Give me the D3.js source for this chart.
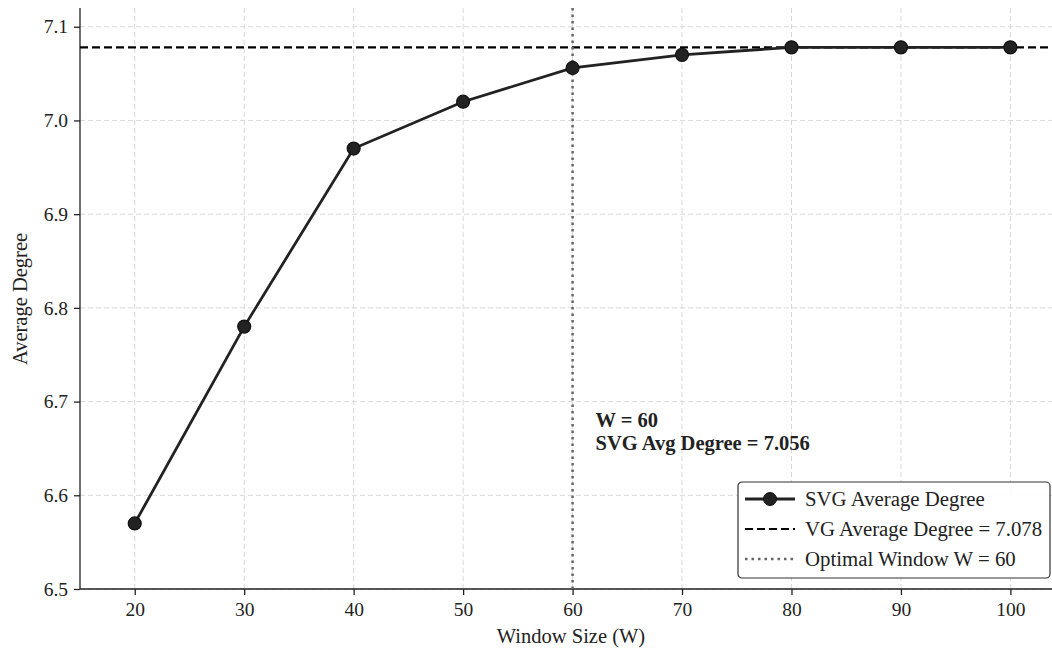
<!DOCTYPE html>
<html>
<head>
<meta charset="utf-8">
<script src="https://cdn.jsdelivr.net/npm/d3@7"></script>
<style>
  body { margin: 0; background: #fff; }
  svg { font-family: "Liberation Serif", "DejaVu Serif", serif; }
  .grid line { stroke: #d9d9d9; stroke-dasharray: 5,3; stroke-width: 1; }
  .axis path, .axis line { stroke: #222; stroke-width: 1.3; }
</style>
</head>
<body>
<div id="chart"></div>
<script>
const windows = [20, 30, 40, 50, 60, 70, 80, 90, 100];
const svgDegree = [6.57, 6.78, 6.97, 7.02, 7.056, 7.07, 7.078, 7.078, 7.078];
const vgDegree = 7.078;
const optimalW = 60;
const yTicks = [6.5, 6.6, 6.7, 6.8, 6.9, 7.0, 7.1];
const legendLabels = ["SVG Average Degree", "VG Average Degree = 7.078", "Optimal Window W = 60"];

const margin = { top: 8, right: 0, bottom: 62, left: 80 },
      width = 1052 - margin.left - margin.right,
      height = 651 - margin.top - margin.bottom;

const svg = d3.select("#chart")
    .append("svg")
    .attr("width", width + margin.left + margin.right)
    .attr("height", height + margin.top + margin.bottom)
    .append("g")
    .attr("transform", `translate(${margin.left},${margin.top})`);

const x = d3.scaleLinear().domain([15, 103.8]).range([0, width]);
const y = d3.scaleLinear().domain([6.5, 7.12]).range([height, 0]);

// grid
svg.append("g")
    .attr("class", "grid")
    .selectAll("line.v")
    .data(windows)
    .enter().append("line")
    .attr("x1", d => x(d)).attr("x2", d => x(d))
    .attr("y1", 0).attr("y2", height);

svg.append("g")
    .attr("class", "grid")
    .selectAll("line.h")
    .data(yTicks)
    .enter().append("line")
    .attr("x1", 0).attr("x2", width)
    .attr("y1", d => y(d)).attr("y2", d => y(d));

// axes
const xAxis = svg.append("g")
    .attr("class", "axis")
    .attr("transform", `translate(0,${height})`)
    .call(d3.axisBottom(x).tickValues(windows).tickSize(6).tickPadding(7).tickFormat(d3.format("d")));

const yAxis = svg.append("g")
    .attr("class", "axis")
    .call(d3.axisLeft(y).tickValues(yTicks).tickSize(6).tickPadding(6).tickFormat(d3.format(".1f")));

[xAxis, yAxis].forEach(g => {
    g.attr("font-family", "Liberation Serif, serif").attr("font-size", 19.5);
    g.selectAll("text")
        .style("font-family", "'Liberation Serif', serif")
        .style("font-size", "19.5px")
        .attr("fill", "#222");
});

xAxis.select(".domain").attr("d", `M0,0H${width}`);
yAxis.select(".domain").attr("d", `M0,0V${height}`);

// reference lines
svg.append("line")
    .attr("x1", 0).attr("x2", width)
    .attr("y1", y(vgDegree)).attr("y2", y(vgDegree))
    .attr("stroke", "#000").attr("stroke-width", 2.2)
    .attr("stroke-dasharray", "8,4");

svg.append("line")
    .attr("x1", x(optimalW)).attr("x2", x(optimalW))
    .attr("y1", 0).attr("y2", height)
    .attr("stroke", "#666").attr("stroke-width", 2.5)
    .attr("stroke-dasharray", "2.5,4");

// main series
const pts = windows.map((w, i) => ({ w, v: svgDegree[i] }));
const line = d3.line().x(d => x(d.w)).y(d => y(d.v));

svg.append("path")
    .datum(pts)
    .attr("fill", "none")
    .attr("stroke", "#222")
    .attr("stroke-width", 2.8)
    .attr("d", line);

svg.selectAll("circle.pt")
    .data(pts)
    .enter().append("circle")
    .attr("cx", d => x(d.w))
    .attr("cy", d => y(d.v))
    .attr("r", 6.5)
    .attr("fill", "#222")
    .attr("stroke", "#111")
    .attr("stroke-width", 1.2);

// annotation
const ann = svg.append("text")
    .attr("y", 427 - margin.top)
    .attr("font-weight", "bold")
    .attr("font-size", 20.5)
    .attr("fill", "#222");
ann.append("tspan").attr("x", x(optimalW) + 23).text(`W = ${optimalW}`);
ann.append("tspan").attr("x", x(optimalW) + 23).attr("dy", 23)
    .text(`SVG Avg Degree = ${svgDegree[windows.indexOf(optimalW)].toFixed(3)}`);

// axis labels
svg.append("text")
    .attr("text-anchor", "middle")
    .attr("x", (571 - margin.left))
    .attr("y", 643 - margin.top)
    .attr("font-size", 20.5)
    .attr("fill", "#222")
    .text("Window Size (W)");

svg.append("text")
    .attr("text-anchor", "middle")
    .attr("transform", "rotate(-90)")
    .attr("x", -(299 - margin.top))
    .attr("y", 27 - margin.left)
    .attr("font-size", 20.5)
    .attr("fill", "#222")
    .text("Average Degree");

// legend
const lg = svg.append("g").attr("transform", `translate(${738 - margin.left},${482 - margin.top})`);
lg.append("rect")
    .attr("width", 312).attr("height", 96)
    .attr("rx", 4)
    .attr("fill", "#fff").attr("fill-opacity", 0.9)
    .attr("stroke", "#333").attr("stroke-width", 1.2);

legendLabels.forEach((lab, i) => {
    const yy = 17 + i * 30;
    const row = lg.append("g").attr("transform", `translate(0,${yy})`);
    if (i === 0) {
        row.append("line").attr("x1", 7).attr("x2", 57).attr("stroke", "#222").attr("stroke-width", 2.8);
        row.append("circle").attr("cx", 32).attr("r", 6.5).attr("fill", "#222").attr("stroke", "#111");
    } else if (i === 1) {
        row.append("line").attr("x1", 7).attr("x2", 57).attr("stroke", "#000").attr("stroke-width", 2.2)
            .attr("stroke-dasharray", "8,4");
    } else {
        row.append("line").attr("x1", 7).attr("x2", 57).attr("stroke", "#666").attr("stroke-width", 2.5)
            .attr("stroke-dasharray", "2.5,4");
    }
    row.append("text")
        .attr("x", 67).attr("y", 7)
        .attr("font-size", 20.8).attr("fill", "#222")
        .text(lab);
});
</script>
</body>
</html>
